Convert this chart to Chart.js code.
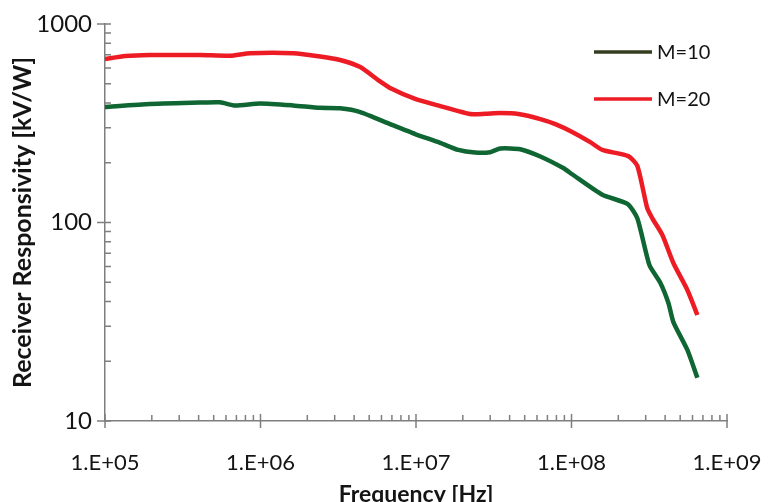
<!DOCTYPE html>
<html>
<head>
<meta charset="utf-8">
<script src="https://cdn.jsdelivr.net/npm/chart.js@4"></script>
<style>
  html, body { margin: 0; padding: 0; background: #fff; }
  #wrap { width: 781px; height: 502px; }
</style>
</head>
<body>
<div id="wrap"><canvas id="respChart" width="781" height="502"></canvas></div>
<script>
// Datos
const freqM20 = [1e5, 1.35e5, 1.95e5, 4.09e5, 6.37e5, 8.57e5, 1.62e6, 2.42e6, 3.25e6, 4.38e6,
  5.71e6, 7.03e6, 9.88e6, 1.43e7, 2.23e7, 2.79e7, 3.48e7, 4.55e7, 6.3e7, 7.87e7,
  1.01e8, 1.32e8, 1.58e8, 2.32e8, 2.65e8, 3.07e8, 3.31e8, 3.84e8, 4.52e8, 5.56e8, 6.45e8];
const respM20 = [666, 690, 698, 698, 692, 712, 712, 686, 659, 607,
  522, 470, 419, 386, 352, 353, 356, 352, 332, 313,
  286, 254, 232, 216, 193, 118, 105, 86.5, 62.5, 45.7, 34.2];

const freqM10 = [1e5, 1.95e5, 4.09e5, 5.5e5, 6.87e5, 9.94e5, 1.62e6, 2.42e6, 3.25e6, 4.38e6,
  6.82e6, 9.88e6, 1.43e7, 1.87e7, 2.4e7, 3.0e7, 3.48e7, 4.68e7, 6.3e7, 8.85e7,
  1.01e8, 1.58e8, 2.29e8, 2.65e8, 3.17e8, 3.73e8, 4.2e8, 4.52e8, 5.56e8, 6.45e8];
const respM10 = [382, 395, 402, 403, 388, 398, 389, 378, 376, 360,
  313, 279, 252, 232, 225, 226, 236, 234, 215, 188,
  175, 138, 124, 105, 61, 49.6, 39.3, 31.5, 22.8, 16.5];

const xTicks = [1e5, 1e6, 1e7, 1e8, 1e9];
const yTicks = [10, 100, 1000];
const seriesLabels = ['M=10', 'M=20'];

const AXIS_COLOR = '#7f7f7f';
const TEXT_COLOR = '#141414';
const FONT = 'Lato, "Open Sans", sans-serif';

function toPoints(xs, ys) {
  return xs.map((x, i) => ({ x: x, y: ys[i] }));
}

// Marcas de los ejes (mayores cruzan el eje, menores hacia dentro)
const axisTicksPlugin = {
  id: 'axisTicks',
  afterDraw(chart) {
    const ctx = chart.ctx;
    const xs = chart.scales.x;
    const ys = chart.scales.y;
    const area = chart.chartArea;
    ctx.save();
    ctx.strokeStyle = AXIS_COLOR;
    ctx.lineWidth = 1.5;
    ctx.beginPath();
    for (let d = 5; d <= 9; d++) {
      const major = xs.getPixelForValue(Math.pow(10, d));
      ctx.moveTo(major, area.bottom - 7);
      ctx.lineTo(major, area.bottom + 7);
      if (d < 9) {
        for (let m = 2; m <= 9; m++) {
          const px = xs.getPixelForValue(m * Math.pow(10, d));
          ctx.moveTo(px, area.bottom - 6);
          ctx.lineTo(px, area.bottom);
        }
      }
    }
    for (let d = 1; d <= 3; d++) {
      const major = ys.getPixelForValue(Math.pow(10, d));
      ctx.moveTo(area.left - 8, major);
      ctx.lineTo(area.left + 6, major);
      if (d < 3) {
        for (let m = 2; m <= 9; m++) {
          const py = ys.getPixelForValue(m * Math.pow(10, d));
          ctx.moveTo(area.left, py);
          ctx.lineTo(area.left + 6, py);
        }
      }
    }
    ctx.stroke();
    ctx.restore();
  }
};

// Leyenda dentro del área del gráfico
const insideLegendPlugin = {
  id: 'insideLegend',
  afterDraw(chart) {
    const ctx = chart.ctx;
    const colors = ['#343d1f', '#ed1c24'];
    const rows = [52, 99];
    ctx.save();
    ctx.font = '20px ' + FONT;
    ctx.textBaseline = 'middle';
    ctx.fillStyle = TEXT_COLOR;
    seriesLabels.forEach((lbl, i) => {
      ctx.strokeStyle = colors[i];
      ctx.lineWidth = 3.5;
      ctx.beginPath();
      ctx.moveTo(594, rows[i]);
      ctx.lineTo(652, rows[i]);
      ctx.stroke();
      ctx.fillText(lbl, 657, rows[i] + 1);
    });
    ctx.restore();
  }
};

document.addEventListener('DOMContentLoaded', () => {
  const ctx = document.getElementById('respChart').getContext('2d');
  new Chart(ctx, {
    type: 'line',
    data: {
      datasets: [
        {
          label: seriesLabels[0],
          data: toPoints(freqM10, respM10),
          borderColor: '#0f6633',
          borderWidth: 4.5,
          pointRadius: 0,
          tension: 0.2,
          fill: false
        },
        {
          label: seriesLabels[1],
          data: toPoints(freqM20, respM20),
          borderColor: '#ed1c24',
          borderWidth: 4.5,
          pointRadius: 0,
          tension: 0.2,
          fill: false
        }
      ]
    },
    options: {
      responsive: false,
      animation: false,
      layout: { padding: { top: 24, right: 54, left: 0, bottom: 0 } },
      plugins: {
        legend: { display: false },
        tooltip: { enabled: false }
      },
      scales: {
        x: {
          type: 'logarithmic',
          min: 1e5,
          max: 1e9,
          afterBuildTicks: (scale) => { scale.ticks = xTicks.map(v => ({ value: v })); },
          afterFit: (scale) => {
            scale.height = 81;
            scale.paddingLeft = 0;
            scale.paddingRight = 0;
          },
          grid: { drawOnChartArea: false, drawTicks: false },
          border: { display: true, color: AXIS_COLOR, width: 1.5 },
          ticks: {
            padding: 29,
            color: TEXT_COLOR,
            font: { family: FONT, size: 22 },
            maxRotation: 0,
            callback: (v) => '1.E+' + String(Math.round(Math.log10(v))).padStart(2, '0')
          },
          title: {
            display: true,
            text: 'Frequency [Hz]',
            color: TEXT_COLOR,
            font: { family: FONT, size: 23, weight: 'bold' },
            padding: { top: 0, bottom: -6 }
          }
        },
        y: {
          type: 'logarithmic',
          min: 10,
          max: 1000,
          afterBuildTicks: (scale) => { scale.ticks = yTicks.map(v => ({ value: v })); },
          afterFit: (scale) => {
            scale.width = 105;
            scale.paddingTop = 0;
            scale.paddingBottom = 0;
          },
          grid: { drawOnChartArea: false, drawTicks: false },
          border: { display: true, color: AXIS_COLOR, width: 1.5 },
          ticks: {
            padding: 13,
            color: TEXT_COLOR,
            font: { family: FONT, size: 24 },
            callback: (v) => String(v)
          },
          title: {
            display: true,
            text: 'Receiver Responsivity [kV/W]',
            color: TEXT_COLOR,
            font: { family: FONT, size: 25, weight: 'bold' },
            padding: { top: 8, bottom: 0 }
          }
        }
      }
    },
    plugins: [axisTicksPlugin, insideLegendPlugin]
  });
});
</script>
</body>
</html>
